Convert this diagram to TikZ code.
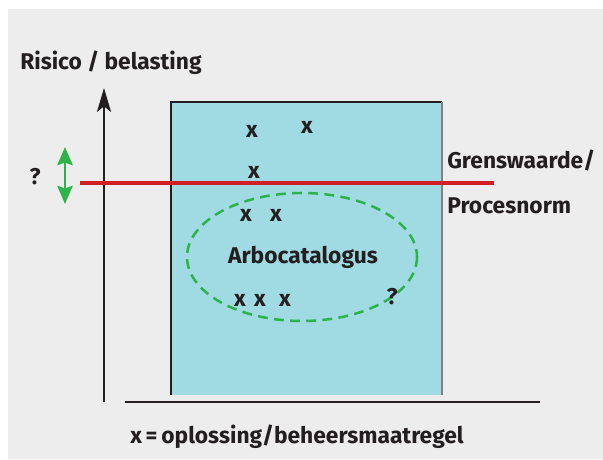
\documentclass[tikz,border=0pt]{standalone}
\usepackage{fontspec}
\setmainfont{Fira Sans}
\usetikzlibrary{arrows.meta,positioning}
\definecolor{achtergrond}{HTML}{EDEDED}
\definecolor{vlakblauw}{HTML}{A0DAE2}
\definecolor{normrood}{HTML}{D01F26}
\definecolor{pijlgroen}{HTML}{2EB34B}
\definecolor{tekstzwart}{HTML}{231F20}

\begin{document}
\begin{tikzpicture}[x=0.025cm, y=-0.025cm,
    lbl/.style={font=\bfseries\fontsize{16.2}{19}\selectfont, text=tekstzwart, inner sep=0pt},
    kruis/.style={lbl}]
    \useasboundingbox (0,0) rectangle (603,459);
    \fill[white] (0,0) rectangle (603,459);
    \fill[achtergrond] (8,9) rectangle (603,459);

    % vlak met oplossingen
    \fill[vlakblauw] (171,102) rectangle (442,395);
    \draw[tekstzwart, line width=1.2pt] (171,395) -- (171,102) -- (442,102);
    \draw[gray, line width=1.2pt] (442,102) -- (442,395);

    % assen
    \coordinate (oorsprong) at (104,402);
    \coordinate (ytop) at (104,88);
    \coordinate (xbegin) at (125,402);
    \coordinate (xeind) at (540,402);
    \draw[tekstzwart, line width=1.8pt, -{Stealth[length=17pt, width=10pt, inset=4pt]}] (oorsprong) -- (ytop);
    \draw[tekstzwart, line width=1.8pt] (xbegin) -- (xeind);

    % grenswaarde
    \coordinate (rood1) at (80,183);
    \coordinate (rood2) at (494,183);
    \draw[normrood, line width=2.2pt] (rood1) -- (rood2);

    \coordinate (pijl1) at (65,147);
    \coordinate (pijl2) at (65,204);
    \draw[pijlgroen, line width=1.6pt, {Stealth[length=13pt, width=11pt, inset=2pt]}-{Stealth[length=13pt, width=11pt, inset=2pt]}] (pijl1) -- (pijl2);

    \draw[pijlgroen, line width=1.8pt, dash pattern=on 7pt off 4.5pt] (302,257) ellipse [x radius=115, y radius=64];

    \node[lbl, anchor=base west] (risico) at (20,70) {Risico / belasting};
    \node[lbl] (vraag1) at (35,177) {?};
    \node[lbl, anchor=base west] (grens) at (447,168) {Grenswaarde/};
    \node[lbl, anchor=base west] (norm) at (447,213) {Procesnorm};
    \node[lbl, anchor=base] (arbo) at (303,263) {Arbocatalogus};
    \node[lbl] (vraag2) at (392,297) {?};
    \node[lbl, anchor=base west] (legenda) at (130,443) {x\,=\,oplossing/beheersmaatregel};

    \foreach \px/\py [count=\i] in {252/131, 307/127, 254/172, 246/215, 276/215, 240/300, 260/300, 285/300}
        \node[kruis] (x\i) at (\px,\py) {x};
\end{tikzpicture}
\end{document}
